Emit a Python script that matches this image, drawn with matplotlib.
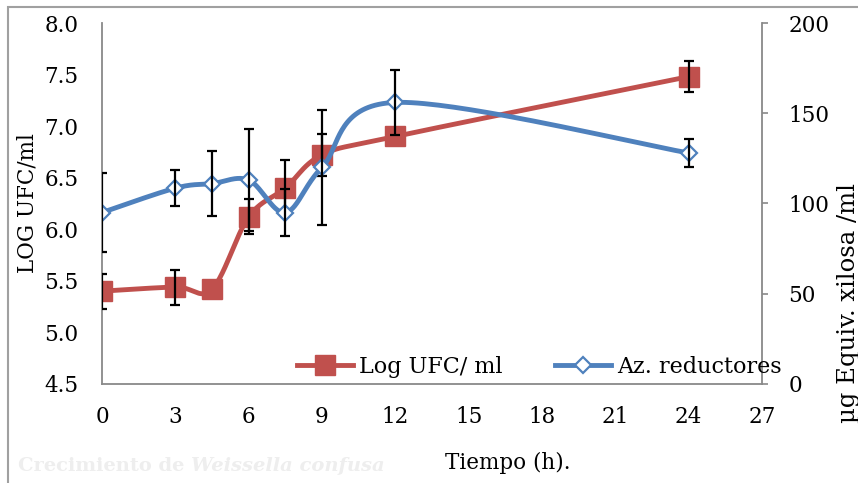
import numpy as np
import matplotlib
matplotlib.use('Agg')
import matplotlib.pyplot as plt
from matplotlib.lines import Line2D
from matplotlib.patches import Rectangle

# time points (h) and measurements
hours = [0, 3, 4.5, 6, 7.5, 9, 12, 24]
log_ufc = [5.40, 5.44, 5.42, 6.12, 6.40, 6.72, 6.90, 7.48]
log_ufc_err = [0.17, 0.17, 0.0, 0.17, 0.27, 0.20, 0.0, 0.15]
az_red = [95, 108.5, 111, 113, 95, 120, 156, 128]
az_red_err = [22, 10, 18, 28, 13, 32, 18, 8]

x_ticks = [0, 3, 6, 9, 12, 15, 18, 21, 24, 27]
left_ticks = [4.5, 5.0, 5.5, 6.0, 6.5, 7.0, 7.5, 8.0]
right_ticks = [0, 50, 100, 150, 200]

RED = '#C0504D'
BLUE = '#4F81BD'
GRAY = '#898989'
FS = 15.5

plt.rcParams['font.family'] = ['DejaVu Serif']
plt.rcParams['font.size'] = FS

W, H = 858, 483
fig = plt.figure(figsize=(W / 100, H / 100), dpi=100)
x0, x1, y0, y1 = 102, 762, 23, 384
ax = fig.add_axes([x0 / W, 1 - y1 / H, (x1 - x0) / W, (y1 - y0) / H])
ax2 = ax.twinx()

xlim = (0, 27)
ylim1 = (4.5, 8.0)
ylim2 = (0, 200)


def smooth(xs, ys, xl, yl, w, h, n=40):
    # cardinal spline through the points, built in pixel space
    px = (np.asarray(xs, float) - xl[0]) / (xl[1] - xl[0]) * w
    py = (np.asarray(ys, float) - yl[0]) / (yl[1] - yl[0]) * h
    p = np.column_stack([px, py])
    pe = np.vstack([p[0], p, p[-1]])
    t = np.linspace(0, 1, n)[:, None]
    out = []
    for i in range(len(p) - 1):
        p0, p1, p2, p3 = pe[i], pe[i + 1], pe[i + 2], pe[i + 3]
        c1 = p1 + (p2 - p0) / 6
        c2 = p2 - (p3 - p1) / 6
        seg = (1 - t) ** 3 * p1 + 3 * (1 - t) ** 2 * t * c1 + 3 * (1 - t) * t ** 2 * c2 + t ** 3 * p2
        out.append(seg if i == 0 else seg[1:])
    out = np.vstack(out)
    sx = out[:, 0] / w * (xl[1] - xl[0]) + xl[0]
    sy = out[:, 1] / h * (yl[1] - yl[0]) + yl[0]
    return sx, sy


pw, ph = x1 - x0, y1 - y0

# Log UFC series
sx, sy = smooth(hours, log_ufc, xlim, ylim1, pw, ph)
ax.plot(sx, sy, color=RED, lw=3.5, solid_capstyle='round', zorder=2)
ax.plot(hours, log_ufc, 's', color=RED, ms=14, zorder=3)
m = np.array(log_ufc_err) > 0
ax.errorbar(np.array(hours)[m], np.array(log_ufc)[m], yerr=np.array(log_ufc_err)[m],
            fmt='none', ecolor='black', elinewidth=1.6, capsize=3.8, capthick=1.6, zorder=4)

# reducing sugars series
sx, sy = smooth(hours, az_red, xlim, ylim2, pw, ph)
ax2.plot(sx, sy, color=BLUE, lw=3.5, solid_capstyle='round', zorder=2)
ax2.plot(hours, az_red, 'D', color=BLUE, mfc='white', mec=BLUE, mew=1.6, ms=8, zorder=3)
ax2.errorbar(hours, az_red, yerr=az_red_err, fmt='none', ecolor='black',
             elinewidth=1.6, capsize=3.8, capthick=1.6, zorder=4)

ax.set_xlim(*xlim)
ax.set_ylim(*ylim1)
ax2.set_ylim(*ylim2)
ax.set_xticks(x_ticks)
ax.set_xticklabels([str(v) for v in x_ticks])
ax.set_yticks(left_ticks)
ax.set_yticklabels([f'{v:.1f}' for v in left_ticks])
ax2.set_yticks(right_ticks)
ax2.set_yticklabels([str(v) for v in right_ticks])

for a in (ax, ax2):
    for s in a.spines.values():
        s.set_visible(False)
        s.set_color(GRAY)
        s.set_linewidth(1.3)
ax.spines['left'].set_visible(True)
ax.spines['bottom'].set_visible(True)
ax2.spines['right'].set_visible(True)
ax.set_facecolor('none')

ax.tick_params(axis='both', length=0, labelsize=FS, colors='black')
ax.tick_params(axis='y', pad=17)
ax.tick_params(axis='x', pad=16)
ax2.tick_params(axis='y', direction='out', length=4, width=1.2, color=GRAY,
                labelsize=FS, pad=15)

# axis titles
fig.text(28 / W, 1 - 203 / H, 'LOG UFC/ml', rotation=90, ha='center', va='center', fontsize=FS)
fig.text(848 / W, 1 - 183 / H, 'µg Equiv. xilosa /ml', rotation=90, ha='center', va='top',
         fontsize=17.5)
fig.text(508 / W, 1 - 463 / H, 'Tiempo (h).', ha='center', va='center', fontsize=FS)

# legend
LFS = 16
h_red = Line2D([], [], color=RED, lw=3.5, marker='s', ms=14)
h_blue = Line2D([], [], color=BLUE, lw=3.5, marker='D', mfc='white', mec=BLUE, mew=1.6, ms=8)
ax2.legend([h_red, h_blue], ['Log UFC/ ml', 'Az. reductores'], loc='center left',
           bbox_to_anchor=(297 / W, 1 - 367 / H), bbox_transform=fig.transFigure,
           ncol=2, frameon=False, handlelength=2.5, handletextpad=0.27,
           columnspacing=2.4, borderpad=0, borderaxespad=0, fontsize=LFS)

# faint caption
wm = '#eeeeee'
t1 = fig.text(18 / W, 1 - 466 / H, 'Crecimiento de ', color=wm, fontweight='bold',
              fontsize=14, va='center')
fig.canvas.draw()
bb = t1.get_window_extent()
fig.text(bb.x1 / W, 1 - 466 / H, 'Weissella confusa', color=wm, fontweight='bold',
         fontstyle='italic', fontsize=14, va='center')

# chart border (right and bottom edges fall outside the image)
fig.patches.append(Rectangle((8 / W, 1 - 495 / H), (875 - 8) / W, (495 - 7) / H,
                             transform=fig.transFigure, fill=False,
                             edgecolor='#a0a0a0', lw=1.5))

fig.savefig('out.png', dpi=100)
